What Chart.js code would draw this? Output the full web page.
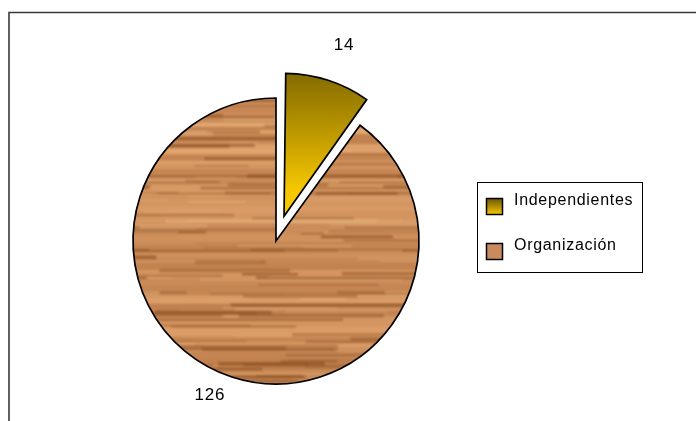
<!DOCTYPE html>
<html>
<head>
<meta charset="utf-8">
<script src="https://cdn.jsdelivr.net/npm/chart.js@4.4.1/dist/chart.umd.min.js"></script>
<style>
  html, body { margin: 0; padding: 0; background: #fff; }
  #wrap { width: 696px; height: 421px; position: relative; }
</style>
</head>
<body>
<div id="wrap"><canvas id="c" width="696" height="421"></canvas></div>
<script>
const categories = ['Independientes', 'Organización'];
const values = [14, 126];
const valueLabels = ['14', '126'];

// deterministic wood-grain pattern (texture only)
function makeWood() {
  const w = 320, h = 300;
  const raw = document.createElement('canvas');
  raw.width = w * 3; raw.height = h * 3;
  const tile = document.createElement('canvas');
  tile.width = w; tile.height = h;
  const c = tile.getContext('2d');
  let s = 12345;
  const rnd = () => { s = (s * 16807) % 2147483647; return s / 2147483647; };
  c.fillStyle = '#cf955f';
  c.fillRect(0, 0, w, h);
  let y = 0;
  while (y < h) {
    const bh = 3 + rnd() * 8;
    const t = rnd();
    const r = Math.round(192 + t * 34), g = Math.round(128 + t * 36), b = Math.round(78 + t * 32);
    c.fillStyle = `rgb(${r},${g},${b})`;
    c.fillRect(0, y, w, bh);
    y += bh;
  }
  for (let i = 0; i < 150; i++) {
    const x = rnd() * w, yy = rnd() * h, len = 40 + rnd() * 180, th = 1 + rnd() * 3;
    const dark = rnd() < 0.6;
    c.fillStyle = dark ? `rgba(135,75,30,${0.3 + rnd() * 0.35})` : `rgba(232,182,128,${0.2 + rnd() * 0.3})`;
    for (const dx of [-w, 0, w]) c.fillRect(x + dx, yy, len, th);
  }
  const rc = raw.getContext('2d');
  for (let i = 0; i < 3; i++) for (let j = 0; j < 3; j++) rc.drawImage(tile, i * w, j * h);
  const out = document.createElement('canvas');
  out.width = w; out.height = h;
  const oc = out.getContext('2d');
  oc.filter = 'blur(1.3px)';
  oc.drawImage(raw, -w, -h);
  return oc.createPattern(out, 'repeat');
}

const ctx = document.getElementById('c').getContext('2d');
const wood = makeWood();

function goldGradient(c, y0, y1) {
  const g = c.createLinearGradient(0, y0, 0, y1);
  g.addColorStop(0, '#6c5800');
  g.addColorStop(0.5, '#b08e00');
  g.addColorStop(1, '#f7c800');
  return g;
}

const RADIUS = 143;
const EXPLODE = 104; // Chart.js moves an arc by offset / 4

const framePlugin = {
  id: 'frame',
  beforeDraw(chart) {
    const c = chart.ctx;
    c.save();
    c.strokeStyle = '#3a3a3a';
    c.lineWidth = 1.6;
    c.beginPath();
    c.moveTo(9, 421);
    c.lineTo(9, 12.5);
    c.lineTo(696, 12.5);
    c.stroke();
    c.restore();
  }
};

const fixOffsetPlugin = {
  id: 'fixOffset',
  beforeDatasetsDraw(chart) {
    const meta = chart.getDatasetMeta(0);
    const base = meta.controller.outerRadius;
    meta.data.forEach(arc => {
      const t = (arc.options.offset || 0) / 4;
      const circ = arc.endAngle - arc.startAngle;
      const fix = 1 - Math.sin(Math.min(Math.PI, circ));
      arc.outerRadius = base - t * fix;
    });
  }
};

const labelPlugin = {
  id: 'sliceLabels',
  afterDatasetsDraw(chart, args, opts) {
    const c = chart.ctx;
    const meta = chart.getDatasetMeta(0);
    const base = meta.controller.outerRadius;
    c.save();
    c.font = '17px "Liberation Sans", Arial, sans-serif';
    c.letterSpacing = '0.8px';
    c.fillStyle = '#000';
    c.textAlign = 'center';
    c.textBaseline = 'middle';
    meta.data.forEach((arc, i) => {
      const mid = (arc.startAngle + arc.endAngle) / 2;
      const t = (arc.options.offset || 0) / 4;
      const d = base + t + opts.dist[i];
      const x = arc.x + Math.cos(mid) * d + opts.nudge[i][0];
      const y = arc.y + Math.sin(mid) * d + opts.nudge[i][1];
      c.fillText(valueLabels[i], x, y);
    });
    c.restore();
  }
};

const legendPlugin = {
  id: 'boxLegend',
  afterDraw(chart) {
    const c = chart.ctx;
    c.save();
    c.strokeStyle = '#000';
    c.lineWidth = 1;
    c.strokeRect(477.5, 182.5, 165, 90);
    c.font = '16px "Liberation Sans", Arial, sans-serif';
    c.letterSpacing = '0.7px';
    c.textBaseline = 'alphabetic';
    c.textAlign = 'left';
    const rows = [205, 250];
    categories.forEach((name, i) => {
      const y = rows[i];
      const sx = 486.5, sy = y - 6.5, sz = 16;
      if (i === 0) c.fillStyle = goldGradient(c, sy, sy + sz);
      else c.fillStyle = '#c98a5e';
      c.fillRect(sx, sy, sz, sz);
      c.lineWidth = 1.5;
      c.strokeStyle = '#000';
      c.strokeRect(sx, sy, sz, sz);
      c.fillStyle = '#000';
      c.fillText(name, 514, y);
    });
    c.restore();
  }
};

new Chart(ctx, {
  type: 'pie',
  data: {
    labels: categories,
    datasets: [{
      data: values,
      backgroundColor: (context) => {
        const chart = context.chart;
        const area = chart.chartArea;
        if (!area) return '#c98a5e';
        if (context.dataIndex === 0) {
          const cy = (area.top + area.bottom) / 2;
          return goldGradient(chart.ctx, cy - RADIUS - 25, cy - 25);
        }
        return wood;
      },
      borderColor: '#000',
      borderWidth: 1.7,
      borderJoinStyle: 'miter',
      offset: [EXPLODE, 0],
      hoverOffset: 0
    }]
  },
  options: {
    responsive: false,
    animation: false,
    devicePixelRatio: 1,
    radius: RADIUS,
    layout: { padding: { left: 110, right: 254, top: 70, bottom: 9 } },
    plugins: {
      legend: { display: false },
      tooltip: { enabled: false },
      sliceLabels: { dist: [38, 26], nudge: [[4, 1], [-14, -6]] }
    },
    events: []
  },
  plugins: [framePlugin, fixOffsetPlugin, labelPlugin, legendPlugin]
});
</script>
</body>
</html>
